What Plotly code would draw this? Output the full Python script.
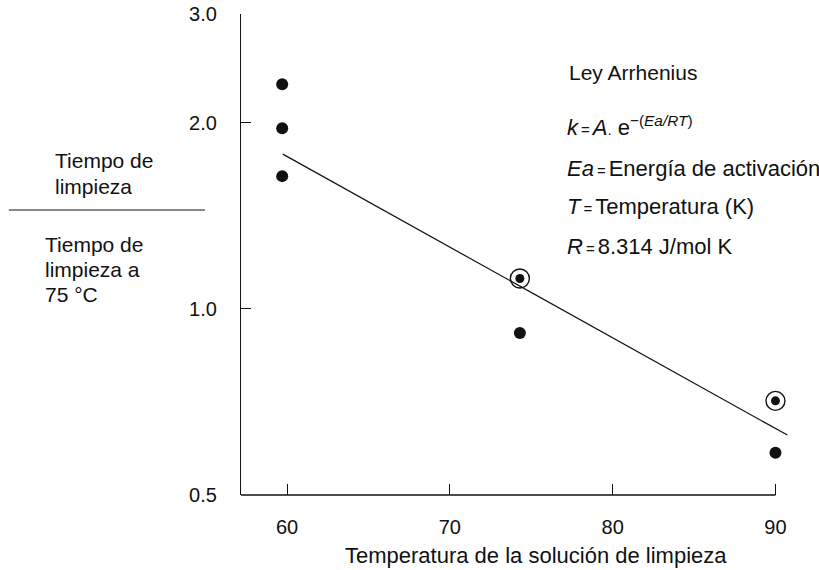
import plotly.graph_objects as go

# ---- data ----
temp_60 = [59.7, 59.7, 59.7]
ratio_60 = [2.31, 1.96, 1.64]
temp_filled = [74.3, 90.0]
ratio_filled = [0.914, 0.585]
temp_circled = [74.3, 90.0]
ratio_circled = [1.12, 0.71]
fit_x = [59.74, 90.73]
fit_y = [1.78, 0.625]

x_ticks = [60, 70, 80, 90]
y_ticks = [0.5, 1.0, 2.0, 3.0]
y_ticktext = ["0.5", "1.0", "2.0", "3.0"]

W, H = 819, 570
L, T, B = 241, 14, 75
X0, X1 = 57.17, 91.2
PXU = 16.27
PW = PXU * (X1 - X0)
R = W - L - PW
PH = H - T - B

def px(x):
    return (x - L) / PW

def py(y):
    return (H - B - y) / PH

FONT = "Liberation Sans, Arial, sans-serif"
fig = go.Figure()

fig.add_trace(go.Scatter(x=fit_x, y=fit_y, mode="lines",
                         line=dict(color="#111", width=1.2),
                         showlegend=False, hoverinfo="skip"))
fig.add_trace(go.Scatter(x=temp_60 + temp_filled, y=ratio_60 + ratio_filled,
                         mode="markers", cliponaxis=False,
                         marker=dict(color="#111", size=12),
                         showlegend=False))
fig.add_trace(go.Scatter(x=temp_circled, y=ratio_circled, mode="markers",
                         cliponaxis=False,
                         marker=dict(color="#111", size=9),
                         showlegend=False))
fig.add_trace(go.Scatter(x=temp_circled, y=ratio_circled, mode="markers",
                         cliponaxis=False,
                         marker=dict(symbol="circle-open", color="#111", size=19,
                                     line=dict(width=1.4, color="#111")),
                         showlegend=False))

# bottom axis line (ends at 90)
fig.add_shape(type="line", xref="x", yref="paper", x0=X0, x1=90, y0=0, y1=0,
              line=dict(color="#111", width=1.3))
# fraction bar on the left
fig.add_shape(type="line", xref="paper", yref="paper",
              x0=px(9), x1=px(205), y0=py(210), y1=py(210),
              line=dict(color="#111", width=1.2))

def add_text(x, y, txt, size=21):
    fig.add_annotation(xref="paper", yref="paper", x=px(x), y=py(y),
                       xanchor="left", yanchor="middle", align="left",
                       text=txt, showarrow=False,
                       font=dict(family=FONT, size=size, color="#111"))

# left ratio label
add_text(53, 161, "Tiempo de")
add_text(53, 186, "limpieza")
add_text(43, 244, "Tiempo de")
add_text(43, 269, "limpieza a")
add_text(43, 294, "75 °C")

eq = "<span style='font-size:15px'>\u2009=\u2009</span>"
add_text(567, 72, "Ley Arrhenius")
add_text(565, 126, "<i>k</i>" + eq + "<i>A</i><span style='font-size:15px'>.</span> e<sup>−(<i>Ea/RT</i>)</sup>", size=22)
add_text(565, 168, "<i>Ea</i>" + eq + "Energía de activación", size=22)
add_text(565, 207, "<i>T</i>" + eq + "Temperatura (K)", size=22)
add_text(565, 246, "<i>R</i>" + eq + "8.314 J/mol K", size=22)

# x-axis title
fig.add_annotation(xref="paper", yref="paper", x=px(536), y=py(555),
                   xanchor="center", yanchor="middle",
                   text="Temperatura de la solución de limpieza", showarrow=False,
                   font=dict(family=FONT, size=22, color="#111"))

fig.update_layout(
    width=W, height=H,
    margin=dict(l=L, r=R, t=T, b=B, autoexpand=False),
    paper_bgcolor="white", plot_bgcolor="white",
    font=dict(family=FONT, size=20, color="#111"),
    showlegend=False,
    xaxis=dict(range=[X0, X1], tickvals=x_ticks, ticks="inside", ticklen=11,
               tickwidth=1.3, tickcolor="#111", showline=False, showgrid=False,
               zeroline=False, tickfont=dict(size=20), automargin=False,
               ticklabelstandoff=18),
    yaxis=dict(type="log", range=[-0.30103, 0.47713], tickvals=y_ticks,
               ticktext=y_ticktext, ticks="inside", ticklen=10, tickwidth=1.3,
               tickcolor="#111", showline=True, linecolor="#111", linewidth=1.3,
               showgrid=False, zeroline=False, tickfont=dict(size=20),
               ticklabelstandoff=19, automargin=False),
)

fig.write_html("out.html")
